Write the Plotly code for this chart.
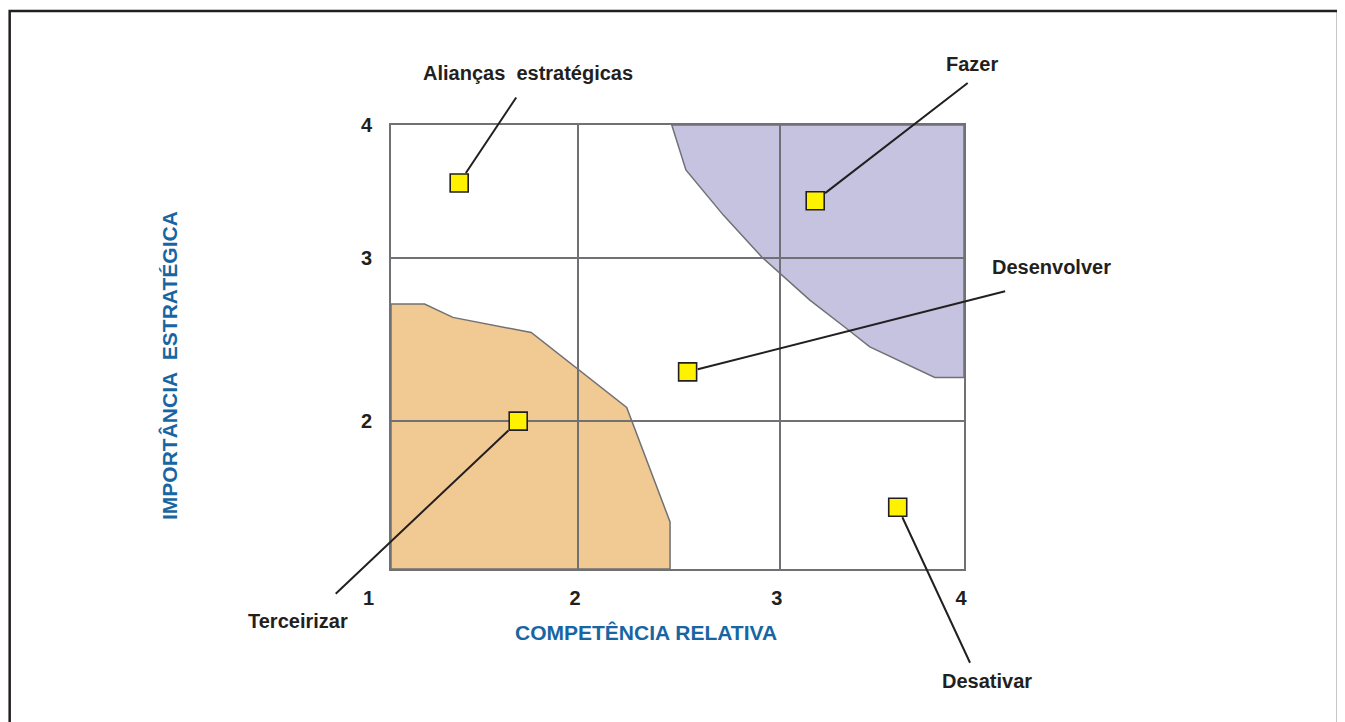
import plotly.graph_objects as go

# ---- data ----
categories = ["Alianças estratégicas", "Fazer", "Desenvolver", "Terceirizar", "Desativar"]
competencia = [1.357, 3.221, 2.553, 1.666, 3.653]     # x: competência relativa
importancia = [3.608, 3.488, 2.332, 1.999, 1.417]     # y: importância estratégica

# shaded regions (polygon vertices)
fazer_region_x = [2.470, 2.544, 2.740, 2.940, 3.193, 3.385, 3.507, 3.847, 4.0, 4.0]
fazer_region_y = [4.0, 3.696, 3.391, 3.110, 2.817, 2.625, 2.501, 2.294, 2.294, 4.0]
terc_region_x = [1.0, 1.176, 1.324, 1.734, 2.234, 2.461, 2.461, 1.0]
terc_region_y = [2.790, 2.790, 2.700, 2.598, 2.091, 1.318, 1.0, 1.0]

# axis grid / tick positions and labels
x_grid = [1.0, 1.98, 3.035, 4.0]
x_ticktext = ["1" + "\u00a0" * 7, "2", "3", "4"]
y_grid = [2.0, 3.10, 4.0]
y_ticktext = ["2", "3", "4"]

# ---- styles ----
GRAY = "#707174"
DARK = "#231f20"
BLUE = "#1766a3"
FONT = "Liberation Sans, Arial, sans-serif"

# label placement (pixel offsets from each point) and leader lines
label_text = ["Alianças\u00a0 estratégicas", "Fazer", "Desenvolver", "Terceirizar", "Desativar"]
text_shift = [(69, 110), (157, 137), (364, 105), (-220, -200), (89, -174)]
leader = [(58, -87, 12), (154, -119, 12.5), (319, -81, 10.5), (-184, 174, 13.5), (73, 157, 11)]


def poly_path(xs, ys):
    return "M " + " L ".join(f"{x},{y}" for x, y in zip(xs, ys)) + " Z"


fig = go.Figure()

fig.add_trace(go.Scatter(
    x=competencia, y=importancia, mode="markers",
    marker=dict(symbol="square", size=18, color="#fff200",
                line=dict(color=DARK, width=1.6)),
    text=categories, hoverinfo="text", showlegend=False,
))

shapes = [
    dict(type="path", path=poly_path(terc_region_x, terc_region_y), xref="x", yref="y",
         layer="below", fillcolor="#f1c993", line=dict(color=GRAY, width=1.5)),
    dict(type="path", path=poly_path(fazer_region_x, fazer_region_y), xref="x", yref="y",
         layer="below", fillcolor="#c6c3e1", line=dict(color=GRAY, width=1.5)),
    # outer frame
    dict(type="rect", xref="paper", yref="paper", x0=-0.6655, x1=1.6527, y0=-1.0, y1=1.2565,
         line=dict(color=DARK, width=2.5), fillcolor="rgba(0,0,0,0)", layer="above"),
]

annotations = []
for name, x, y, (dx, dy), (ax, ay, so) in zip(label_text, competencia, importancia, text_shift, leader):
    # leader line
    annotations.append(dict(x=x, y=y, xref="x", yref="y", text="", showarrow=True,
                            arrowhead=0, arrowwidth=2, arrowcolor=DARK, ax=ax, ay=ay,
                            standoff=so, font=dict(size=1)))
    # label
    annotations.append(dict(x=x, y=y, xref="x", yref="y", text=name, showarrow=False,
                            xshift=dx, yshift=dy, xanchor="center", yanchor="middle",
                            font=dict(family=FONT, size=20, color=DARK, weight="bold")))

# axis titles
annotations.append(dict(text="COMPETÊNCIA RELATIVA", xref="paper", yref="paper",
                        x=0.445, y=-0.142, showarrow=False, xanchor="center", yanchor="middle",
                        font=dict(family=FONT, size=21, color=BLUE, weight="bold")))
annotations.append(dict(text="IMPORTÂNCIA\u00a0 ESTRATÉGICA", xref="paper", yref="paper",
                        x=-0.3857, y=0.4595, showarrow=False, textangle=-90,
                        xanchor="center", yanchor="middle",
                        font=dict(family=FONT, size=21, color=BLUE, weight="bold")))

axis_common = dict(
    showgrid=True, gridcolor=GRAY, gridwidth=2,
    showline=True, linecolor=GRAY, linewidth=2, mirror=True,
    zeroline=False, tickmode="array",
    ticks="outside", tickcolor="rgba(0,0,0,0)",
    tickfont=dict(family=FONT, size=20, color=DARK, weight="bold"),
    fixedrange=True,
)

fig.update_layout(
    width=1337, height=714, autosize=False,
    margin=dict(l=383, r=381, t=117, b=153),
    paper_bgcolor="white", plot_bgcolor="white",
    xaxis=dict(range=[1, 4], tickvals=x_grid, ticktext=x_ticktext, ticklabelshift=-3,
               ticklen=10, **axis_common),
    yaxis=dict(range=[1, 4], tickvals=y_grid, ticktext=y_ticktext, ticklen=13, **axis_common),
    shapes=shapes, annotations=annotations, showlegend=False,
)

fig.write_html("out.html")
